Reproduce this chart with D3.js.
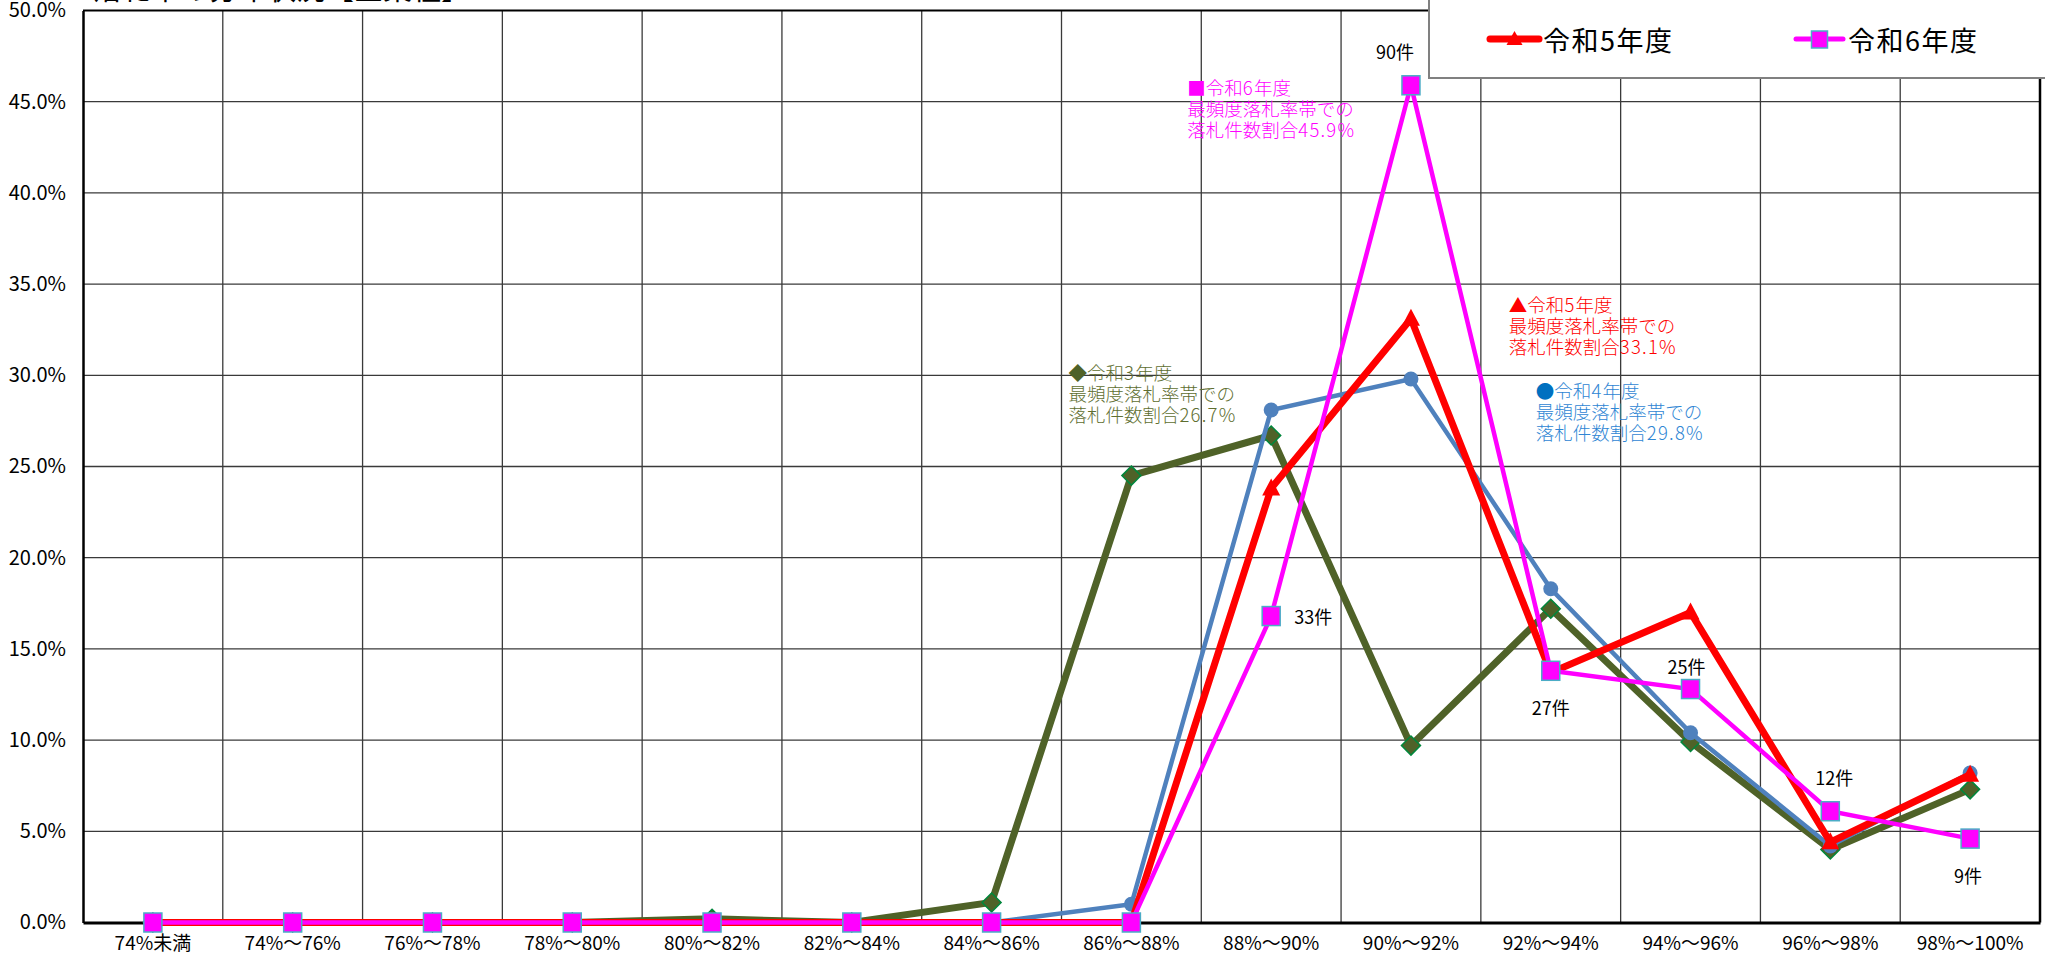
<!DOCTYPE html>
<html><head><meta charset="utf-8">
<script src="https://cdn.jsdelivr.net/npm/d3@7"></script>
<style>
html,body{margin:0;padding:0;background:#fff;overflow:hidden}
svg{display:block}
</style></head><body>
<svg id="chart" width="2045" height="953"></svg>
<script>
// ---------------- data ----------------
const categories = ["74%未満","74%～76%","76%～78%","78%～80%","80%～82%","82%～84%","84%～86%","86%～88%","88%～90%","90%～92%","92%～94%","94%～96%","96%～98%","98%～100%"];
const seriesNames = ["令和3年度","令和4年度","令和5年度","令和6年度"];
const valuesR3 = [0,0,0,0,0.2,0,1.1,24.5,26.7,9.7,17.2,9.9,4.0,7.3];
const valuesR4 = [0,0,0,0,0,0,0,1.0,28.1,29.8,18.3,10.4,4.2,8.2];
const valuesR5 = [0,0,0,0,0,0,0,0,23.8,33.1,13.7,17.0,4.4,8.1];
const valuesR6 = [0,0,0,0,0,0,0,0,16.8,45.9,13.8,12.8,6.1,4.6];
const countsR6 = [null,null,null,null,null,null,null,null,"33件","90件","27件","25件","12件","9件"];
const yTicks = [0,5,10,15,20,25,30,35,40,45,50];
const legendNames = ["令和5年度","令和6年度"];
const titleText = "落札率の分布状況【全業種】";
const noteR3 = ["令和3年度","最頻度落札率帯での","落札件数割合26.7%"];
const noteR4 = ["令和4年度","最頻度落札率帯での","落札件数割合29.8%"];
const noteR5 = ["令和5年度","最頻度落札率帯での","落札件数割合33.1%"];
const noteR6 = ["令和6年度","最頻度落札率帯での","落札件数割合45.9%"];

// ---------------- layout ----------------
const W = 2045, H = 953;
const plot = {left: 83, right: 2040, top: 10.5, bottom: 922.5};
const narrow = '"Liberation Sans Narrow","Arial Narrow","Noto Sans CJK JP",sans-serif';
const cjk = '"Noto Sans CJK JP","Noto Sans",sans-serif';

const svg = d3.select("#chart");
const x = d3.scaleBand().domain(categories).range([plot.left, plot.right]).padding(0);
const xc = c => x(c) + x.bandwidth() / 2;
const y = d3.scaleLinear().domain([0, 50]).range([plot.bottom, plot.top]);

// title (clipped at top as in the reference)
svg.append("text").attr("x", 93).attr("y", 0).attr("font-family", cjk)
  .attr("font-size", 29).attr("fill", "#000").text(titleText);

// gridlines
const g = svg.append("g");
g.selectAll("line.h").data(yTicks.slice(1, -1)).join("line")
  .attr("x1", plot.left).attr("x2", plot.right)
  .attr("y1", d => y(d)).attr("y2", d => y(d))
  .attr("stroke", "#3a3a3a").attr("stroke-width", 1.3);
g.selectAll("line.v").data(categories.slice(1)).join("line")
  .attr("x1", d => x(d)).attr("x2", d => x(d))
  .attr("y1", plot.top).attr("y2", plot.bottom)
  .attr("stroke", "#3a3a3a").attr("stroke-width", 1.3);

// plot border
svg.append("line").attr("x1", plot.left).attr("x2", plot.right).attr("y1", plot.top).attr("y2", plot.top)
  .attr("stroke", "#000").attr("stroke-width", 2);
svg.append("line").attr("x1", plot.right).attr("x2", plot.right).attr("y1", plot.top).attr("y2", plot.bottom)
  .attr("stroke", "#000").attr("stroke-width", 2.5);

// axes
const yAxis = d3.axisLeft(y).tickValues(yTicks).tickSize(0).tickPadding(17)
  .tickFormat(d => d3.format(".1f")(d) + "%");
const ya = svg.append("g").attr("transform", `translate(${plot.left},0)`).call(yAxis);
ya.select(".domain").attr("stroke", "#000").attr("stroke-width", 2.5);
ya.selectAll("text").attr("font-family", narrow).attr("font-size", 20).attr("fill", "#000");

const xAxis = d3.axisBottom(x).tickSize(0).tickPadding(14);
const xa = svg.append("g").attr("transform", `translate(0,${plot.bottom})`).call(xAxis);
xa.select(".domain").attr("stroke", "#000").attr("stroke-width", 3);
xa.selectAll("text").attr("font-family", narrow).attr("font-size", 19).attr("fill", "#000");

// series
const line = d3.line().x((d, i) => xc(categories[i])).y(d => y(d));
function drawSeries(vals, color, width) {
  svg.append("path").datum(vals).attr("d", line).attr("fill", "none")
    .attr("stroke", color).attr("stroke-width", width).attr("stroke-linejoin", "miter");
}
// R3 olive diamonds
drawSeries(valuesR3, "#4F6228", 7);
svg.append("g").selectAll("path").data(valuesR3).join("path")
  .attr("transform", (d, i) => `translate(${xc(categories[i])},${y(d)})`)
  .attr("d", "M0,-9.5L9.5,0L0,9.5L-9.5,0Z")
  .attr("fill", "#4F6228").attr("stroke", "#00873C").attr("stroke-width", 1.5);
// R4 blue circles
drawSeries(valuesR4, "#4F81BD", 4.5);
svg.append("g").selectAll("circle").data(valuesR4).join("circle")
  .attr("cx", (d, i) => xc(categories[i])).attr("cy", d => y(d)).attr("r", 7.5)
  .attr("fill", "#4F81BD");
// R5 red triangles
drawSeries(valuesR5, "#FF0000", 7);
svg.append("g").selectAll("path").data(valuesR5).join("path")
  .attr("transform", (d, i) => `translate(${xc(categories[i])},${y(d)})`)
  .attr("d", "M0,-10L9,7L-9,7Z").attr("fill", "#FF0000");
// R6 magenta squares
drawSeries(valuesR6, "#FF00FF", 4.5);
svg.append("g").selectAll("rect").data(valuesR6).join("rect")
  .attr("x", (d, i) => xc(categories[i]) - 9).attr("y", d => y(d) - 9.5)
  .attr("width", 18).attr("height", 19)
  .attr("fill", "#FF00FF").attr("stroke", "#4BACC6").attr("stroke-width", 1.5);

// count labels for R6
const countOffsets = {8: [42, 0], 9: [-16, -34], 10: [0, 36], 11: [-4, -23], 12: [4, -34], 13: [-2, 36]};
svg.append("g").selectAll("text").data(countsR6.map((c, i) => ({c, i})).filter(d => d.c))
  .join("text")
  .attr("x", d => xc(categories[d.i]) + countOffsets[d.i][0])
  .attr("y", d => y(valuesR6[d.i]) + countOffsets[d.i][1])
  .attr("text-anchor", "middle").attr("dominant-baseline", "central")
  .attr("font-family", narrow).attr("font-size", 18).attr("fill", "#000")
  .text(d => d.c);

// annotations
function note(lines, mark, markColor, textColor, catIdx, dx, val) {
  const x0 = x(categories[catIdx]) + dx, y0 = y(val);
  const t = svg.append("text").attr("font-family", cjk).attr("font-size", 18.5)
    .attr("font-weight", 300).attr("fill", textColor);
  lines.forEach((s, k) => {
    const ts = t.append("tspan").attr("x", x0).attr("y", y0 + k * 21).attr("dominant-baseline", "central");
    if (k === 0) {
      ts.append("tspan").attr("fill", markColor).text(mark);
    }
    s.split(/([0-9.%]+)/).filter(p => p.length).forEach(p => {
      const part = ts.append("tspan").text(p);
      if (/^[0-9.%]+$/.test(p)) part.attr("letter-spacing", 1.2);
    });
  });
}
note(noteR6, "■", "#FF00FF", "#FF00FF", 8, -14, 45.8);
note(noteR5, "▲", "#FF0000", "#FF0000", 10, 28, 33.9);
note(noteR4, "●", "#0070C0", "#2F86D4", 10, 55, 29.2);
note(noteR3, "◆", "#4F6228", "#5E6E30", 7, 7, 30.2);

// legend
const lg = svg.append("g");
lg.append("rect").attr("x", 1429).attr("y", -3).attr("width", 640).attr("height", 81)
  .attr("fill", "#fff").attr("stroke", "#808080").attr("stroke-width", 2);
const legendItems = [
  {name: legendNames[0], color: "#FF0000", x0: 1490, x1: 1539, tx: 1543, w: 7, mark: "tri"},
  {name: legendNames[1], color: "#FF00FF", x0: 1796, x1: 1843, tx: 1848, w: 5, mark: "sq"}
];
legendItems.forEach(it => {
  lg.append("line").attr("x1", it.x0).attr("x2", it.x1).attr("y1", 39).attr("y2", 39)
    .attr("stroke", it.color).attr("stroke-width", it.w).attr("stroke-linecap", "round");
  const cx = (it.x0 + it.x1) / 2;
  if (it.mark === "tri") {
    lg.append("path").attr("transform", `translate(${cx},39)`).attr("d", "M0,-8L8,6L-8,6Z").attr("fill", it.color);
  } else {
    lg.append("rect").attr("x", cx - 8).attr("y", 31).attr("width", 16).attr("height", 17)
      .attr("fill", it.color).attr("stroke", "#4BACC6").attr("stroke-width", 1.5);
  }
  lg.append("text").attr("x", it.tx).attr("y", 39).attr("dominant-baseline", "central")
    .attr("font-family", cjk).attr("font-size", 27).attr("letter-spacing", 1.5)
    .attr("fill", "#000").text(it.name);
});
</script>
</body></html>
